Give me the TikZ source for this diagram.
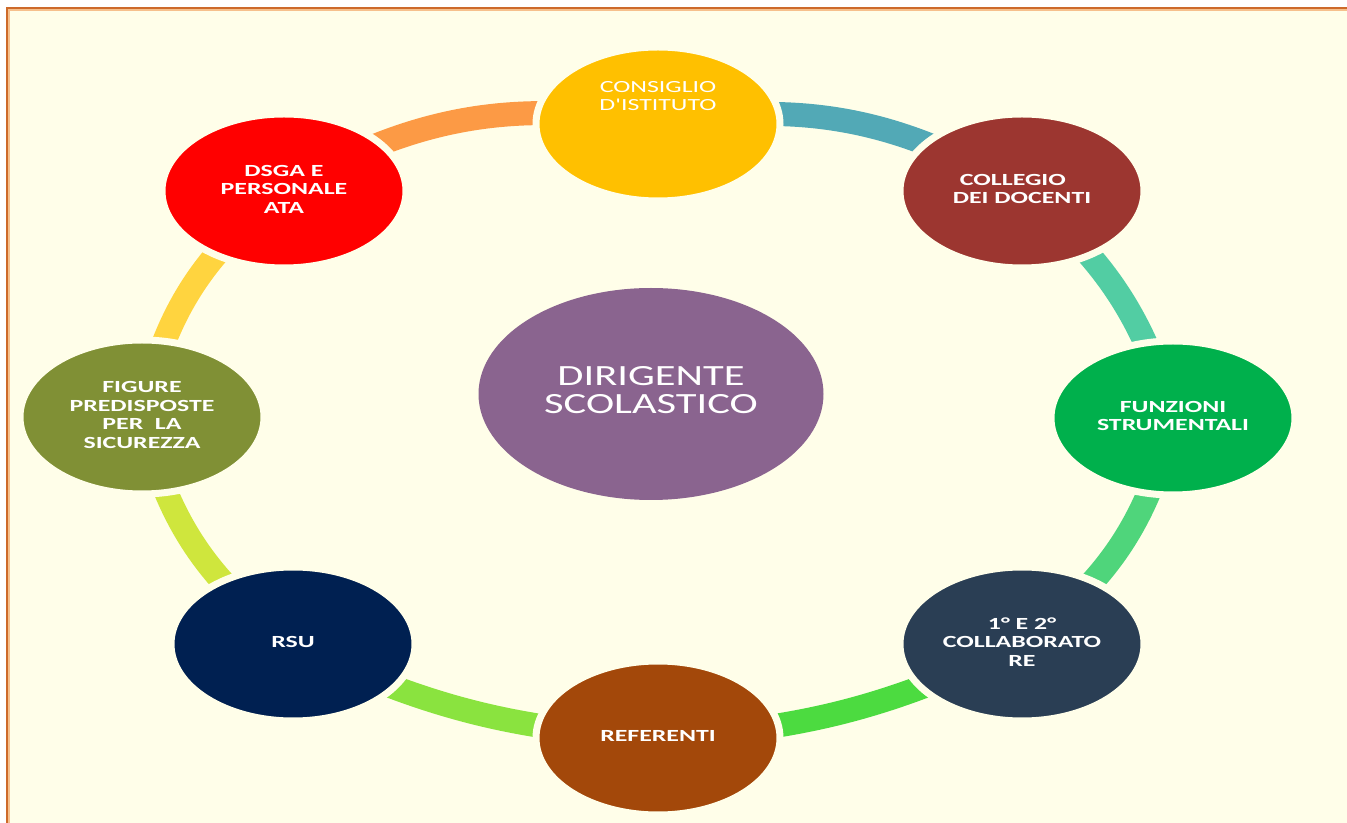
\documentclass[tikz,border=0pt]{standalone}
\usepackage{fontspec}
\setmainfont{Carlito}
\usetikzlibrary{shapes.geometric,backgrounds}

\definecolor{bgcream}{HTML}{FFFEE9}
\definecolor{framec}{HTML}{CD6A2A}
\definecolor{framelt}{HTML}{F6C08C}
\definecolor{dirc}{HTML}{8A648F}
\definecolor{consc}{HTML}{FFC000}
\definecolor{collc}{HTML}{9C3630}
\definecolor{funzc}{HTML}{00B04C}
\definecolor{collabc}{HTML}{2A3E54}
\definecolor{refc}{HTML}{A3480A}
\definecolor{rsuc}{HTML}{002051}
\definecolor{sicc}{HTML}{809035}
\definecolor{dsgac}{HTML}{FF0000}
% colours of the bands
\definecolor{bandA}{HTML}{52A9B6}
\definecolor{bandB}{HTML}{52CDA3}
\definecolor{bandC}{HTML}{4FD57B}
\definecolor{bandD}{HTML}{4CDB40}
\definecolor{bandE}{HTML}{8AE33F}
\definecolor{bandF}{HTML}{CFE63D}
\definecolor{bandG}{HTML}{FFD43F}
\definecolor{bandH}{HTML}{FC9A45}

\newcommand{\wtext}[2][1.52]{\scalebox{#1}[1]{\begin{tabular}{@{}c@{}}#2\end{tabular}}}
\newcommand{\satfont}{\fontsize{12.75pt}{13.9pt}\selectfont}

\begin{document}
\begin{tikzpicture}[x=0.75pt, y=-0.75pt,
  sat/.style={ellipse, fill=#1, draw=bgcream, line width=5.25pt,
    minimum width=183pt, minimum height=115.5pt, inner sep=0pt,
    text=white, font=\satfont\bfseries},
  sattext/.style={text=white, font=\satfont, inner sep=0pt},
  band/.style={draw=#1, line width=18pt}]
  \useasboundingbox (0,0) rectangle (1347,823);
  % centre
  \node[ellipse, fill=dirc, minimum width=258.75pt, minimum height=159pt,
    inner sep=0pt, text=white, font=\fontsize{22pt}{20.8pt}\selectfont]
    (dir) at (651,394) {\wtext[1.45]{DIRIGENTE\\SCOLASTICO}};
  % ring
  \node[sat=consc, label={[sattext, yshift=19.5pt]center:\wtext{CONSIGLIO\\D\textquotesingle ISTITUTO}}]
    (cons) at (658,124) {};
  \node[sat=collc] (coll) at (1022,191) {\wtext{COLLEGIO\hspace*{9pt}\\DEI DOCENTI}};
  \node[sat=funzc] (funz) at (1173,418) {\wtext{FUNZIONI\\STRUMENTALI}};
  \node[sat=collabc] (collab) at (1022,644) {\wtext{1° E 2°\\COLLABORATO\\RE}};
  \node[sat=refc] (ref) at (658,738) {\wtext{REFERENTI}};
  \node[sat=rsuc] (rsu) at (293,644) {\wtext{RSU}};
  \node[sat=sicc] (sic) at (142,417) {\wtext{FIGURE\\PREDISPOSTE\\PER~~LA\\SICUREZZA}};
  \node[sat=dsgac] (dsga) at (284,191) {\wtext{DSGA E\\PERSONALE\\ATA}};
  \begin{scope}[on background layer]
    \fill[white] (0,0) rectangle (1347,823);
    \fill[bgcream] (7,8) rectangle (1347,823);
    \draw[framelt, line width=0.9pt] (9,823) -- (9,10) -- (1347,10);
    \draw[framec, line width=1.5pt] (7,823) -- (7,8) -- (1347,8);
    % bands between the ellipses
    \foreach \a/\b/\c/\bend in {cons/coll/bandA/20, coll/funz/bandB/17,
        funz/collab/bandC/20, collab/ref/bandD/11, ref/rsu/bandE/11,
        rsu/sic/bandF/20, sic/dsga/bandG/20, dsga/cons/bandH/20}
      \draw[band=\c] (\a.center) to[bend left=\bend] (\b.center);
  \end{scope}
\end{tikzpicture}
\end{document}
